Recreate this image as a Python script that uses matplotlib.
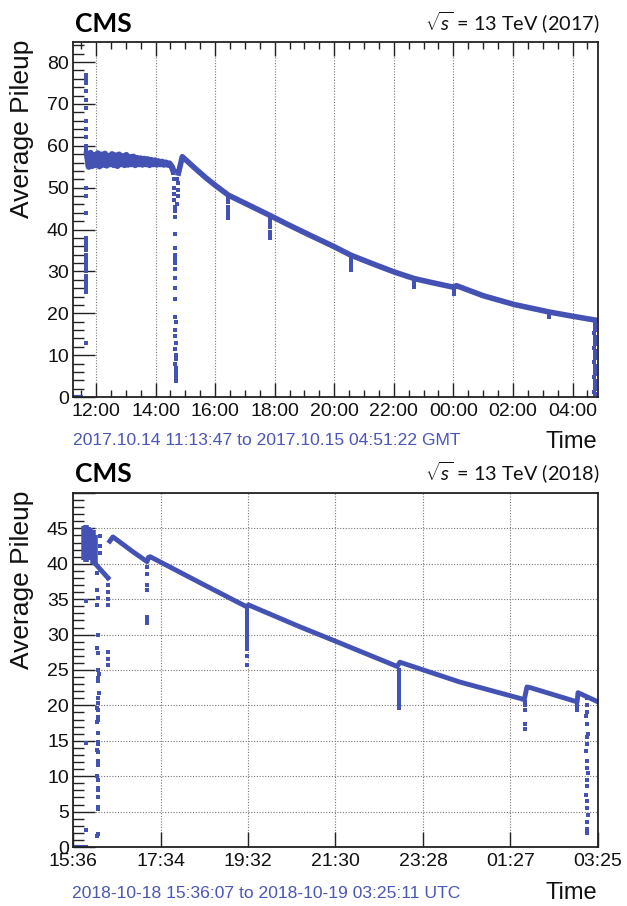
import numpy as np
import matplotlib
matplotlib.use("Agg")
import matplotlib.pyplot as plt
from matplotlib.ticker import FixedLocator, MultipleLocator, FuncFormatter

plt.rcParams['font.family'] = ['Liberation Sans', 'DejaVu Sans']
plt.rcParams['mathtext.fontset'] = 'custom'
plt.rcParams['mathtext.rm'] = 'Lato'
plt.rcParams['mathtext.it'] = 'Lato:italic'

BLUE = '#4452b4'
TXTBLUE = '#4a56b8'

# ---------------- 2017 fill (hours since 2017-10-14 00:00) ----------------
t17_range = [11.2297, 28.8561]
t17_ticks = [12, 14, 16, 18, 20, 22, 24, 26, 28]
t17_ticklabels = ['12:00', '14:00', '16:00', '18:00', '20:00', '22:00', '00:00', '02:00', '04:00']

zero17_t = [11.23, 11.57]
zero17_v = [0, 0]

spike17_t = [11.667] * 30
spike17_v = [77, 76, 75, 73, 71, 69, 66, 64, 62, 60, 59, 58, 50, 48, 44,
             38, 37, 36, 35, 34, 33, 32, 31, 30, 29, 28, 27, 26, 25, 13]

band17_t = [11.70, 11.76, 11.82, 11.88, 11.94, 12.00, 12.06, 12.12, 12.18, 12.24,
            12.30, 12.36, 12.42, 12.48, 12.54, 12.60, 12.66, 12.72, 12.78, 12.84,
            12.90, 12.96, 13.02, 13.08, 13.14, 13.20, 13.26, 13.32, 13.38, 13.44,
            13.50, 13.56, 13.62, 13.68, 13.74, 13.80, 13.86, 13.92, 13.98, 14.04,
            14.10, 14.16, 14.22, 14.28, 14.34, 14.40, 14.46, 14.52, 14.56, 14.60]
band17_v = [58.0, 55.0, 58.3, 55.2, 57.8, 55.4, 58.2, 55.1, 57.9, 55.5,
            58.1, 55.3, 57.6, 55.6, 58.0, 55.4, 57.7, 55.2, 57.9, 55.6,
            57.5, 55.4, 57.8, 55.5, 57.3, 55.6, 57.4, 55.4, 57.1, 55.6,
            57.0, 55.5, 56.9, 55.6, 56.8, 55.4, 56.6, 55.6, 56.5, 55.5,
            56.3, 55.6, 56.2, 55.5, 56.0, 55.5, 55.8, 55.3, 54.8, 54.0]

decay17_t = [14.77, 14.90, 15.3, 15.7, 16.0, 16.45, 17.0, 17.86, 18.5, 19.2,
             20.0, 20.55, 21.3, 22.0, 22.68, 23.3, 24.02, 24.1, 25.0, 26.04,
             27.22, 28.0, 28.74, 28.856]
decay17_v = [53.5, 57.4, 54.8, 52.3, 50.6, 48.2, 46.3, 43.3, 41.0, 38.6,
             35.9, 33.9, 31.8, 29.9, 28.3, 27.3, 26.2, 26.6, 24.2, 22.1,
             20.3, 19.3, 18.4, 18.3]

dip17_t = [14.60, 14.61, 14.62, 14.63, 14.63, 14.64, 14.64, 14.65, 14.66, 14.66,
           14.66, 14.67, 14.67, 14.66, 14.67, 14.67, 14.66, 14.67, 14.68, 14.67,
           14.67, 14.68, 14.67, 14.68, 14.68, 14.67, 14.68, 14.68, 14.69, 14.69,
           14.70, 14.74, 14.75, 14.76, 14.72, 14.72, 14.71,
           16.45, 16.45, 16.45, 16.45, 16.45, 16.45,
           17.86, 17.86, 17.86, 17.86, 17.86, 17.86,
           20.55, 20.55, 20.55, 20.55, 20.55,
           22.68, 22.68, 22.68, 22.68,
           24.02, 24.02, 24.02, 24.02,
           27.22, 27.22, 27.22]
dip17_v = [53.5, 52, 50, 48.5, 47, 45.5, 44.5, 43, 39, 35.5,
           34, 33, 32, 30.5, 28.5, 26, 23.5, 19, 18, 16,
           14.5, 13, 11.5, 10, 9, 8, 7, 6, 5, 4,
           3.8, 51, 49.5, 48, 46, 52, 54,
           47.5, 46.5, 45.5, 44.5, 43.5, 42.8,
           42.5, 41.5, 40.5, 39.5, 38.5, 38,
           33, 32.2, 31.5, 30.8, 30.3,
           27.8, 27.2, 26.7, 26.3,
           25.8, 25.3, 24.9, 24.6,
           19.8, 19.4, 19.0]

end17_t = [28.74, 28.75, 28.74, 28.73, 28.74, 28.75, 28.74, 28.73, 28.74, 28.75,
           28.74, 28.73, 28.74, 28.75, 28.74, 28.73, 28.74, 28.75, 28.74, 28.73, 28.74]
end17_v = [17.5, 16.8, 16, 15.2, 14.3, 13.5, 12.6, 11.8, 11, 10,
           9.2, 8.3, 7.4, 6.5, 5.6, 4.7, 3.8, 2.9, 2, 1.2, 0.6]

# ---------------- 2018 fill (hours since 2018-10-18 00:00) ----------------
t18_range = [15.602, 27.420]
t18_ticks = [15.602, 17.572, 19.541, 21.511, 23.481, 25.450, 27.420]
t18_ticklabels = ['15:36', '17:34', '19:32', '21:30', '23:28', '01:27', '03:25']

zero18_t = [15.60, 15.94]
zero18_v = [0, 0]

cluster18_t = [15.86, 15.90, 15.94, 15.98, 16.02, 16.06, 16.10]
cluster18_lo = [40.5, 40.2, 41.0, 40.5, 40.8, 40.0, 39.8]
cluster18_hi = [45.3, 45.5, 45.2, 45.0, 44.5, 44.8, 44.0]

seg18_a_t = [16.12, 16.39]
seg18_a_v = [39.9, 38.0]

decay18_t = [16.43, 16.50, 16.95, 17.27, 17.30, 17.34, 18.5, 19.52, 19.55, 20.71,
             21.46, 22.90, 22.96, 23.01, 24.31, 25.66, 25.76, 25.82, 25.90, 26.95,
             26.97, 27.42]
decay18_v = [43.2, 43.8, 41.7, 40.3, 40.9, 41.0, 37.2, 33.9, 34.2, 31.1,
             29.2, 25.5, 26.1, 26.0, 23.3, 21.0, 20.8, 22.6, 22.5, 20.5,
             21.8, 20.5]

scat18_t = [16.17, 16.18, 16.16, 16.17, 16.18, 16.16, 16.17, 16.15, 16.16, 16.17,
            16.16, 16.15, 16.16, 16.17, 16.16, 16.15, 16.16, 16.17, 16.16, 16.15,
            16.21, 16.21, 16.21, 16.14, 16.15, 16.16, 16.15, 16.16, 16.15, 16.16,
            16.16, 16.17,
            16.38, 16.38, 16.38, 16.38, 16.38, 16.39, 16.39, 16.39,
            15.89, 15.89, 15.89,
            17.27, 17.27, 17.27, 17.27, 17.27, 17.27, 17.27,
            19.53, 19.53, 19.53, 19.53, 19.53, 19.53, 19.53, 19.53, 19.53, 19.53,
            19.53, 19.53, 19.53, 19.53,
            22.93, 22.93, 22.93, 22.93, 22.93, 22.93, 22.93, 22.93, 22.93, 22.93,
            22.93, 22.93,
            25.78, 25.78, 25.78, 25.78, 25.78,
            26.95, 26.95, 26.95]
scat18_v = [25.0, 24.5, 23.8, 23.4, 21.7, 21.0, 20.4, 19.6, 19.3, 18.4,
            17.9, 17.6, 16.1, 14.9, 14.6, 13.7, 13.4, 12.1, 11.6, 10.0,
            43.9, 42.5, 41.5, 38.7, 36.3, 35.2, 34.2, 30.0, 28.1, 27.4,
            9.4, 8.3,
            38.0, 37.0, 36.0, 35.0, 34.2, 27.6, 26.5, 25.7,
            34.8, 14.7, 2.4,
            39.5, 38.5, 37.0, 36.3, 32.5, 32.0, 31.7,
            33.5, 33.0, 32.5, 32.0, 31.5, 31.0, 30.5, 30.0, 29.5, 29.0,
            28.5, 28.0, 27.0, 25.7,
            25.0, 24.5, 24.0, 23.5, 23.0, 22.5, 22.0, 21.5, 21.0, 20.5,
            20.0, 19.7,
            20.5, 20.0, 19.4, 17.4, 16.7,
            20.2, 19.8, 19.4]

low18_t = [16.16, 16.17, 16.16, 16.17, 16.16, 16.15]
low18_v = [8.0, 7.1, 5.6, 5.4, 1.9, 1.5]

end18_t = [27.17, 27.18, 27.17, 27.16, 27.18, 27.19, 27.17, 27.18, 27.16, 27.17,
           27.18, 27.19, 27.18, 27.17, 27.16, 27.17, 27.18, 27.19, 27.18, 27.17, 27.18]
end18_v = [21, 20, 19, 18.5, 17.4, 16.0, 15.5, 14.5, 13.6, 12.2,
           11.2, 10.5, 9.5, 8.6, 7.4, 6.5, 5.5, 4.5, 3.5, 2.5, 2.0]

W, H = 627, 906
fig = plt.figure(figsize=(W / 100, H / 100), dpi=100)

ax1 = fig.add_axes([73 / W, 1 - 397 / H, 525 / W, 355 / H])
ax2 = fig.add_axes([73 / W, 1 - 847 / H, 525 / W, 354 / H])

ms = 3.0
# top panel
ax1.plot(zero17_t, zero17_v, color=BLUE, lw=3, solid_capstyle='butt')
ax1.plot(spike17_t, spike17_v, 's', color=BLUE, ms=ms, mew=0)
ax1.plot(band17_t, band17_v, color=BLUE, lw=4.5)
ax1.plot(decay17_t, decay17_v, color=BLUE, lw=4)
ax1.plot(dip17_t, dip17_v, 's', color=BLUE, ms=ms, mew=0)
ax1.plot(end17_t, end17_v, 's', color=BLUE, ms=ms, mew=0)

# bottom panel
ax2.plot(zero18_t, zero18_v, color=BLUE, lw=3, solid_capstyle='butt')
ax2.vlines(cluster18_t, cluster18_lo, cluster18_hi, color=BLUE, lw=4)
ax2.plot(seg18_a_t, seg18_a_v, color=BLUE, lw=3.5)
ax2.plot(decay18_t, decay18_v, color=BLUE, lw=3.5)
ax2.plot(scat18_t, scat18_v, 's', color=BLUE, ms=ms, mew=0)
ax2.plot(low18_t, low18_v, 's', color=BLUE, ms=ms, mew=0)
ax2.plot(end18_t, end18_v, 's', color=BLUE, ms=ms, mew=0)

tickfont = 14
for ax in (ax1, ax2):
    for s in ax.spines.values():
        s.set_linewidth(1.3)
        s.set_color('#222222')
    ax.tick_params(axis='both', which='both', direction='in', labelsize=tickfont,
                   colors='#222222', labelcolor='#111111')

# top axis config
ax1.set_xlim(*t17_range)
ax1.set_ylim(0, 84.8)
ax1.xaxis.set_major_locator(FixedLocator(t17_ticks))
ax1.set_xticklabels(t17_ticklabels)
ax1.xaxis.set_minor_locator(MultipleLocator(0.5))
ax1.yaxis.set_major_locator(MultipleLocator(10))
ax1.yaxis.set_minor_locator(MultipleLocator(2))
ax1.tick_params(axis='x', which='major', length=10, width=1, top=True, pad=4)
ax1.tick_params(axis='x', which='minor', length=5, width=1, top=True)
ax1.tick_params(axis='y', which='major', length=16, width=1, pad=3)
ax1.tick_params(axis='y', which='minor', length=8, width=1)
ax1.grid(axis='x', which='major', linestyle=(0, (1, 1.5)), color='#777777', lw=0.8)

# bottom axis config
ax2.set_xlim(*t18_range)
ax2.set_ylim(0, 50)
ax2.xaxis.set_major_locator(FixedLocator(t18_ticks))
ax2.set_xticklabels(t18_ticklabels)
ax2.yaxis.set_major_locator(MultipleLocator(5))
ax2.yaxis.set_minor_locator(MultipleLocator(1))
ax2.yaxis.set_major_formatter(FuncFormatter(lambda v, p: '' if v >= 49.9 else f'{v:.0f}'))
ax2.tick_params(axis='x', which='major', length=11, width=1, pad=4)
ax2.tick_params(axis='y', which='major', length=16, width=1, pad=3)
ax2.tick_params(axis='y', which='minor', length=8, width=1)
ax2.grid(which='major', linestyle=(0, (1, 1.5)), color='#777777', lw=0.8)

for ax in (ax1, ax2):
    ax.set_axisbelow(True)

# texts
def px(x, y):
    return x / W, 1 - y / H

for top, axtop, energy in (
        (0, 42, r'$\sqrt{s}$ = 13 TeV (2017)'),
        (450, 493, r'$\sqrt{s}$ = 13 TeV (2018)')):
    fig.text(*px(22, axtop - 2), 'Average Pileup', rotation=90, ha='center', va='top',
             fontsize=19, color='#111111')
    fig.text(*px(75, top + 32), 'CMS', family='Lato', weight='bold', fontsize=19,
             ha='left', va='baseline', color='#000000')
    fig.text(*px(600, top + 30), energy, family='Lato', fontsize=14.3,
             ha='right', va='baseline', color='#111111')

fig.text(*px(73, 440), '2017.10.14 11:13:47 to 2017.10.15 04:51:22 GMT', fontsize=12.6,
         color=TXTBLUE, ha='left', va='center')
fig.text(*px(597, 442), 'Time', fontsize=17, ha='right', va='center', color='#111111')
fig.text(*px(72, 893), '2018-10-18 15:36:07 to 2018-10-19 03:25:11 UTC', fontsize=12.6,
         color=TXTBLUE, ha='left', va='center')
fig.text(*px(597, 893), 'Time', fontsize=17, ha='right', va='center', color='#111111')

fig.savefig('out.png', dpi=100, facecolor='white')
